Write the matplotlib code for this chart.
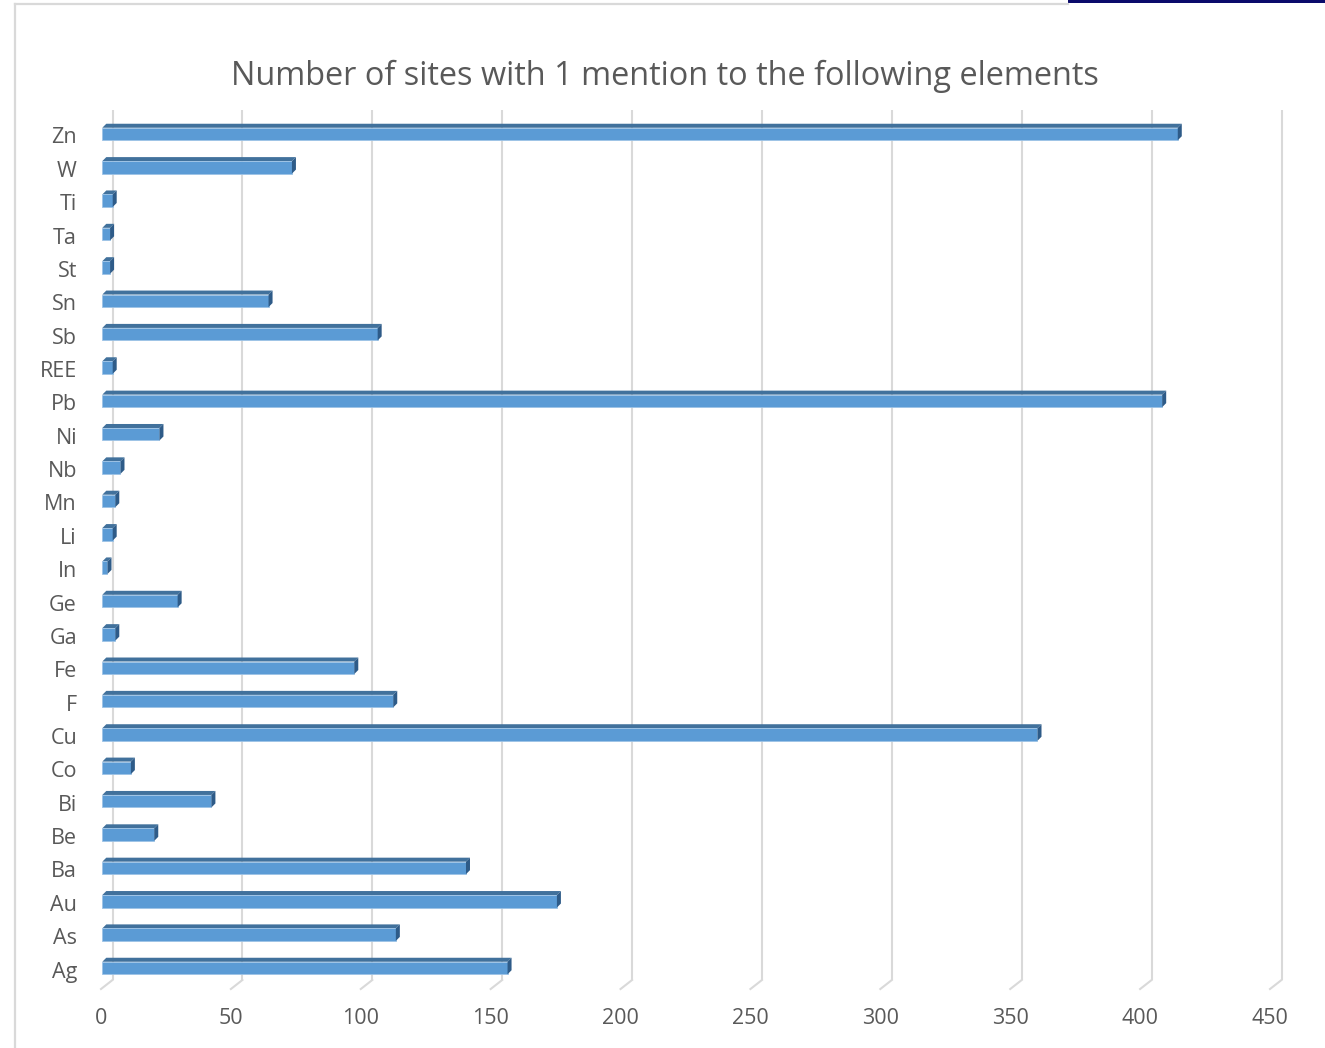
import matplotlib
matplotlib.use("Agg")
import matplotlib.pyplot as plt
from matplotlib.patches import Polygon, Rectangle
from matplotlib.lines import Line2D

# ── data (bottom to top, as drawn) ──
elements = ["Ag", "As", "Au", "Ba", "Be", "Bi", "Co", "Cu", "F", "Fe", "Ga", "Ge",
            "In", "Li", "Mn", "Nb", "Ni", "Pb", "REE", "Sb", "Sn", "St", "Ta", "Ti",
            "W", "Zn"]
counts = [156, 113, 175, 140, 20, 42, 11, 360, 112, 97, 5, 29,
          2, 4, 5, 7, 22, 408, 4, 106, 64, 3, 3, 4,
          73, 414]
x_ticks = [0, 50, 100, 150, 200, 250, 300, 350, 400, 450]
title = "Number of sites with 1 mention to the following elements"

FRONT = "#5B9BD5"
TOP = "#41719C"
SIDE = "#2E5B88"
GRID = "#D9D9D9"
TEXT = "#595959"
FONT = ["Open Sans", "DejaVu Sans"]

W, H = 1325, 1048
fig = plt.figure(figsize=(W / 100, H / 100), dpi=100)

# chart frame pieces from the screenshot
fig.add_artist(Line2D([15 / W, 15 / W], [0, 1 - 4 / H], color=GRID, lw=1.6))
fig.add_artist(Line2D([15 / W, 1068 / W], [1 - 4 / H, 1 - 4 / H], color=GRID, lw=1.6))
fig.add_artist(Rectangle((1068 / W, 1 - 3 / H), (W - 1068) / W, 3 / H,
                         color="#0B0B6B", lw=0))

# axes: x 0..450 spans px 101..1270, y px 102..1002
ax = fig.add_axes([101 / W, 1 - 1002 / H, (1270 - 101) / W, 900 / H])
ax.set_xlim(0, 450)
ax.set_ylim(-1.019, 25.959)
ax.axis("off")

ppx = 450 / (1270 - 101)    # data units per pixel (x)
ppy = 1 / 33.36             # data units per pixel (y)

# back-wall gridlines with slanted feet
for t in x_ticks:
    xb = t + 11.5 * ppx
    ax.plot([xb, xb], [25.72, -0.36], color=GRID, lw=1.5, zorder=1,
            solid_capstyle="butt", clip_on=False)
    ax.plot([xb, t], [-0.36, -0.63], color=GRID, lw=1.5, zorder=1, clip_on=False)
    ax.text(t, -1.52, str(t), ha="center", va="center", fontsize=15.5,
            color=TEXT, family=FONT, clip_on=False)

# 3D-ish bars
bh = 12.5 * ppy
dx = 4 * ppx
dy = 4 * ppy
for i, (name, v) in enumerate(zip(elements, counts)):
    y0, y1 = i - bh / 2, i + bh / 2
    ax.barh(i, v, height=bh, left=0.5, color=FRONT, zorder=3,
            edgecolor="#9DC3E6", linewidth=0.6)
    ax.add_patch(Polygon([(0.5, y1), (v + 0.5, y1), (v + 0.5 + dx, y1 + dy),
                          (0.5 + dx, y1 + dy)], closed=True, color=TOP, zorder=2, lw=0))
    ax.add_patch(Polygon([(v + 0.5, y0), (v + 0.5 + dx, y0 + dy),
                          (v + 0.5 + dx, y1 + dy), (v + 0.5, y1)], closed=True,
                         color=SIDE, zorder=4, lw=0))
    ax.text(-24 * ppx, i - 4 * ppy, name, ha="right", va="center", fontsize=15.5,
            color=TEXT, family=FONT, clip_on=False)

fig.text(665 / W, 1 - 76 / H, title, ha="center", va="center", fontsize=23.4,
         color=TEXT, family=FONT)

fig.savefig("out.png", dpi=100, facecolor="white")
